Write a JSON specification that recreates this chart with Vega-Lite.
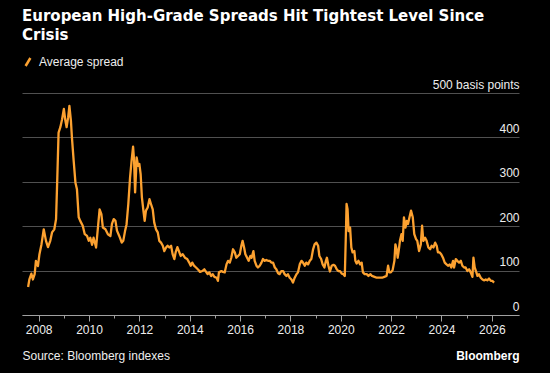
{
  "$schema": "https://vega.github.io/schema/vega-lite/v6.json",
  "width": 497,
  "height": 222,
  "autosize": {"type": "none"},
  "padding": {"left": 22, "top": 93, "right": 31, "bottom": 58},
  "background": "#000000",
  "title": {
    "text": ["European High-Grade Spreads Hit Tightest Level Since", "Crisis"],
    "anchor": "start",
    "frame": "group",
    "font": "DejaVu Sans",
    "fontSize": 15,
    "fontWeight": "bold",
    "color": "#ffffff",
    "lineHeight": 19,
    "offset": 13
  },
  "config": {
    "view": {"stroke": null},
    "font": "Liberation Sans"
  },
  "data": {
    "values": [
      {"year": 2007.58, "spread": 63}, {"year": 2007.63, "spread": 80}, {"year": 2007.71, "spread": 93}, {"year": 2007.77, "spread": 80},
      {"year": 2007.84, "spread": 92}, {"year": 2007.89, "spread": 122}, {"year": 2007.97, "spread": 110}, {"year": 2008.03, "spread": 137},
      {"year": 2008.11, "spread": 159}, {"year": 2008.20, "spread": 193}, {"year": 2008.29, "spread": 167}, {"year": 2008.37, "spread": 153},
      {"year": 2008.46, "spread": 167}, {"year": 2008.53, "spread": 186}, {"year": 2008.62, "spread": 193}, {"year": 2008.69, "spread": 216},
      {"year": 2008.74, "spread": 310}, {"year": 2008.79, "spread": 411}, {"year": 2008.86, "spread": 423}, {"year": 2008.93, "spread": 441},
      {"year": 2009.00, "spread": 464}, {"year": 2009.06, "spread": 438}, {"year": 2009.11, "spread": 423}, {"year": 2009.17, "spread": 445},
      {"year": 2009.22, "spread": 471}, {"year": 2009.28, "spread": 438}, {"year": 2009.32, "spread": 400}, {"year": 2009.39, "spread": 347},
      {"year": 2009.46, "spread": 298}, {"year": 2009.52, "spread": 283}, {"year": 2009.59, "spread": 220}, {"year": 2009.65, "spread": 212},
      {"year": 2009.75, "spread": 201}, {"year": 2009.83, "spread": 182}, {"year": 2009.92, "spread": 178}, {"year": 2009.99, "spread": 167},
      {"year": 2010.05, "spread": 174}, {"year": 2010.12, "spread": 158}, {"year": 2010.18, "spread": 174}, {"year": 2010.28, "spread": 152},
      {"year": 2010.36, "spread": 201}, {"year": 2010.42, "spread": 238}, {"year": 2010.49, "spread": 227}, {"year": 2010.55, "spread": 197},
      {"year": 2010.65, "spread": 193}, {"year": 2010.75, "spread": 182}, {"year": 2010.85, "spread": 178}, {"year": 2010.91, "spread": 205},
      {"year": 2010.98, "spread": 216}, {"year": 2011.05, "spread": 212}, {"year": 2011.11, "spread": 190}, {"year": 2011.20, "spread": 178},
      {"year": 2011.30, "spread": 163}, {"year": 2011.36, "spread": 167}, {"year": 2011.43, "spread": 189}, {"year": 2011.49, "spread": 204},
      {"year": 2011.56, "spread": 250}, {"year": 2011.63, "spread": 310}, {"year": 2011.69, "spread": 347}, {"year": 2011.75, "spread": 379},
      {"year": 2011.79, "spread": 347}, {"year": 2011.83, "spread": 276}, {"year": 2011.87, "spread": 325}, {"year": 2011.89, "spread": 355},
      {"year": 2011.95, "spread": 336}, {"year": 2012.00, "spread": 340}, {"year": 2012.05, "spread": 317}, {"year": 2012.10, "spread": 265},
      {"year": 2012.16, "spread": 235}, {"year": 2012.21, "spread": 212}, {"year": 2012.26, "spread": 235}, {"year": 2012.33, "spread": 242},
      {"year": 2012.40, "spread": 261}, {"year": 2012.46, "spread": 250}, {"year": 2012.53, "spread": 238}, {"year": 2012.59, "spread": 208},
      {"year": 2012.66, "spread": 193}, {"year": 2012.73, "spread": 186}, {"year": 2012.79, "spread": 167}, {"year": 2012.86, "spread": 163},
      {"year": 2012.93, "spread": 156}, {"year": 2012.99, "spread": 144}, {"year": 2013.06, "spread": 152}, {"year": 2013.12, "spread": 156},
      {"year": 2013.19, "spread": 152}, {"year": 2013.26, "spread": 156}, {"year": 2013.32, "spread": 137}, {"year": 2013.39, "spread": 126},
      {"year": 2013.44, "spread": 141}, {"year": 2013.51, "spread": 153}, {"year": 2013.57, "spread": 144}, {"year": 2013.64, "spread": 133},
      {"year": 2013.72, "spread": 137}, {"year": 2013.81, "spread": 129}, {"year": 2013.90, "spread": 126}, {"year": 2013.98, "spread": 118},
      {"year": 2014.04, "spread": 111}, {"year": 2014.10, "spread": 118}, {"year": 2014.17, "spread": 111}, {"year": 2014.25, "spread": 107},
      {"year": 2014.34, "spread": 102}, {"year": 2014.41, "spread": 97}, {"year": 2014.50, "spread": 99}, {"year": 2014.58, "spread": 103},
      {"year": 2014.65, "spread": 97}, {"year": 2014.71, "spread": 92}, {"year": 2014.78, "spread": 96}, {"year": 2014.85, "spread": 88},
      {"year": 2014.91, "spread": 92}, {"year": 2014.98, "spread": 86}, {"year": 2015.07, "spread": 84}, {"year": 2015.12, "spread": 77},
      {"year": 2015.16, "spread": 96}, {"year": 2015.26, "spread": 99}, {"year": 2015.32, "spread": 97}, {"year": 2015.39, "spread": 96},
      {"year": 2015.46, "spread": 114}, {"year": 2015.52, "spread": 122}, {"year": 2015.59, "spread": 118}, {"year": 2015.65, "spread": 129},
      {"year": 2015.72, "spread": 148}, {"year": 2015.79, "spread": 141}, {"year": 2015.85, "spread": 129}, {"year": 2015.92, "spread": 133},
      {"year": 2015.99, "spread": 137}, {"year": 2016.05, "spread": 156}, {"year": 2016.10, "spread": 167}, {"year": 2016.16, "spread": 152},
      {"year": 2016.21, "spread": 137}, {"year": 2016.28, "spread": 129}, {"year": 2016.34, "spread": 122}, {"year": 2016.41, "spread": 133},
      {"year": 2016.46, "spread": 129}, {"year": 2016.53, "spread": 144}, {"year": 2016.58, "spread": 122}, {"year": 2016.65, "spread": 111},
      {"year": 2016.71, "spread": 107}, {"year": 2016.78, "spread": 111}, {"year": 2016.85, "spread": 118}, {"year": 2016.91, "spread": 126},
      {"year": 2016.98, "spread": 122}, {"year": 2017.04, "spread": 124}, {"year": 2017.11, "spread": 122}, {"year": 2017.18, "spread": 122},
      {"year": 2017.24, "spread": 118}, {"year": 2017.31, "spread": 118}, {"year": 2017.38, "spread": 107}, {"year": 2017.44, "spread": 103},
      {"year": 2017.51, "spread": 94}, {"year": 2017.57, "spread": 92}, {"year": 2017.64, "spread": 99}, {"year": 2017.71, "spread": 99},
      {"year": 2017.77, "spread": 92}, {"year": 2017.84, "spread": 88}, {"year": 2017.90, "spread": 92}, {"year": 2017.97, "spread": 84},
      {"year": 2018.04, "spread": 80}, {"year": 2018.10, "spread": 73}, {"year": 2018.17, "spread": 84}, {"year": 2018.24, "spread": 92},
      {"year": 2018.30, "spread": 96}, {"year": 2018.37, "spread": 114}, {"year": 2018.44, "spread": 122}, {"year": 2018.50, "spread": 118},
      {"year": 2018.57, "spread": 111}, {"year": 2018.63, "spread": 118}, {"year": 2018.70, "spread": 114}, {"year": 2018.77, "spread": 122},
      {"year": 2018.83, "spread": 126}, {"year": 2018.90, "spread": 148}, {"year": 2018.96, "spread": 159}, {"year": 2019.03, "spread": 163},
      {"year": 2019.10, "spread": 156}, {"year": 2019.15, "spread": 133}, {"year": 2019.22, "spread": 126}, {"year": 2019.28, "spread": 114},
      {"year": 2019.35, "spread": 107}, {"year": 2019.41, "spread": 122}, {"year": 2019.45, "spread": 129}, {"year": 2019.51, "spread": 111},
      {"year": 2019.57, "spread": 98}, {"year": 2019.64, "spread": 111}, {"year": 2019.71, "spread": 113}, {"year": 2019.77, "spread": 111},
      {"year": 2019.84, "spread": 103}, {"year": 2019.90, "spread": 99}, {"year": 2019.97, "spread": 99}, {"year": 2020.04, "spread": 93},
      {"year": 2020.10, "spread": 92}, {"year": 2020.16, "spread": 88}, {"year": 2020.21, "spread": 197}, {"year": 2020.23, "spread": 250},
      {"year": 2020.27, "spread": 238}, {"year": 2020.31, "spread": 189}, {"year": 2020.37, "spread": 197}, {"year": 2020.42, "spread": 152},
      {"year": 2020.47, "spread": 141}, {"year": 2020.54, "spread": 144}, {"year": 2020.58, "spread": 122}, {"year": 2020.63, "spread": 116},
      {"year": 2020.70, "spread": 122}, {"year": 2020.77, "spread": 114}, {"year": 2020.83, "spread": 118}, {"year": 2020.88, "spread": 96},
      {"year": 2020.95, "spread": 92}, {"year": 2021.03, "spread": 92}, {"year": 2021.10, "spread": 88}, {"year": 2021.18, "spread": 92},
      {"year": 2021.24, "spread": 88}, {"year": 2021.34, "spread": 86}, {"year": 2021.43, "spread": 84}, {"year": 2021.53, "spread": 84},
      {"year": 2021.64, "spread": 84}, {"year": 2021.73, "spread": 86}, {"year": 2021.82, "spread": 88}, {"year": 2021.88, "spread": 111},
      {"year": 2021.93, "spread": 96}, {"year": 2021.99, "spread": 96}, {"year": 2022.06, "spread": 101}, {"year": 2022.13, "spread": 122},
      {"year": 2022.17, "spread": 159}, {"year": 2022.22, "spread": 148}, {"year": 2022.26, "spread": 129}, {"year": 2022.30, "spread": 144},
      {"year": 2022.35, "spread": 167}, {"year": 2022.41, "spread": 182}, {"year": 2022.46, "spread": 167}, {"year": 2022.51, "spread": 220},
      {"year": 2022.57, "spread": 197}, {"year": 2022.62, "spread": 212}, {"year": 2022.67, "spread": 205}, {"year": 2022.73, "spread": 220},
      {"year": 2022.79, "spread": 235}, {"year": 2022.86, "spread": 220}, {"year": 2022.92, "spread": 182}, {"year": 2022.99, "spread": 171},
      {"year": 2023.04, "spread": 167}, {"year": 2023.11, "spread": 144}, {"year": 2023.18, "spread": 159}, {"year": 2023.23, "spread": 201},
      {"year": 2023.28, "spread": 167}, {"year": 2023.35, "spread": 174}, {"year": 2023.41, "spread": 167}, {"year": 2023.48, "spread": 152},
      {"year": 2023.55, "spread": 148}, {"year": 2023.61, "spread": 156}, {"year": 2023.68, "spread": 152}, {"year": 2023.75, "spread": 163},
      {"year": 2023.81, "spread": 156}, {"year": 2023.86, "spread": 141}, {"year": 2023.93, "spread": 141}, {"year": 2023.99, "spread": 137},
      {"year": 2024.06, "spread": 129}, {"year": 2024.13, "spread": 118}, {"year": 2024.20, "spread": 114}, {"year": 2024.26, "spread": 111},
      {"year": 2024.33, "spread": 114}, {"year": 2024.39, "spread": 107}, {"year": 2024.46, "spread": 122}, {"year": 2024.50, "spread": 107},
      {"year": 2024.57, "spread": 126}, {"year": 2024.63, "spread": 122}, {"year": 2024.70, "spread": 118}, {"year": 2024.77, "spread": 122},
      {"year": 2024.83, "spread": 111}, {"year": 2024.90, "spread": 107}, {"year": 2024.96, "spread": 107}, {"year": 2025.03, "spread": 99},
      {"year": 2025.10, "spread": 103}, {"year": 2025.16, "spread": 96}, {"year": 2025.23, "spread": 86}, {"year": 2025.27, "spread": 129},
      {"year": 2025.32, "spread": 107}, {"year": 2025.37, "spread": 99}, {"year": 2025.43, "spread": 88}, {"year": 2025.49, "spread": 92},
      {"year": 2025.56, "spread": 84}, {"year": 2025.63, "spread": 80}, {"year": 2025.69, "spread": 78}, {"year": 2025.76, "spread": 80},
      {"year": 2025.82, "spread": 78}, {"year": 2025.89, "spread": 82}, {"year": 2025.96, "spread": 77}, {"year": 2026.02, "spread": 77},
      {"year": 2026.09, "spread": 73}
    ]
  },
  "mark": {"type": "line", "strokeWidth": 2.3, "strokeJoin": "round"},
  "encoding": {
    "x": {
      "field": "year",
      "type": "quantitative",
      "scale": {"domain": [2007.337, 2027.08], "nice": false, "zero": false},
      "axis": {
        "values": [2008, 2009, 2010, 2011, 2012, 2013, 2014, 2015, 2016, 2017, 2018, 2019, 2020, 2021, 2022, 2023, 2024, 2025, 2026],
        "labelExpr": "datum.value % 2 === 0 ? format(datum.value, 'd') : ''",
        "labelOverlap": false,
        "labelFont": "Liberation Sans",
        "labelFontSize": 12,
        "labelColor": "#eeeeee",
        "labelPadding": 3,
        "domain": true,
        "domainColor": "#a0a0a0",
        "domainWidth": 1,
        "ticks": true,
        "tickColor": "#a0a0a0",
        "tickSize": {"condition": {"test": "datum.value % 2 === 0", "value": 6}, "value": 3},
        "grid": false,
        "title": "Source: Bloomberg indexes",
        "titleFont": "Liberation Sans",
        "titleFontSize": 12,
        "titleFontWeight": "normal",
        "titleColor": "#eeeeee",
        "titleAnchor": "start",
        "titleAlign": "left",
        "titleBaseline": "alphabetic",
        "titleX": 0,
        "titleY": 44
      }
    },
    "y": {
      "field": "spread",
      "type": "quantitative",
      "scale": {"domain": [0, 500], "nice": false},
      "axis": {
        "orient": "right",
        "values": [0, 100, 200, 300, 400, 500],
        "labelExpr": "datum.value == 500 ? '500 basis points' : datum.label",
        "labelFont": "Liberation Sans",
        "labelFontSize": 12,
        "labelColor": "#eeeeee",
        "labelAlign": "right",
        "labelBaseline": "alphabetic",
        "labelPadding": 0,
        "labelOffset": -5,
        "domain": false,
        "ticks": false,
        "grid": true,
        "gridColor": "#505050",
        "gridWidth": 1,
        "title": "Bloomberg",
        "titleFont": "Liberation Sans",
        "titleFontSize": 12,
        "titleFontWeight": "bold",
        "titleColor": "#ffffff",
        "titleAngle": 0,
        "titleAlign": "right",
        "titleBaseline": "alphabetic",
        "titleX": 0,
        "titleY": 266
      }
    },
    "color": {
      "datum": "Average spread",
      "scale": {"range": ["#fca130"]},
      "legend": {
        "title": null,
        "orient": "none",
        "legendX": 0,
        "legendY": -37,
        "padding": 0,
        "symbolType": "M-0.6,1L0.6,-1",
        "symbolSize": 64,
        "symbolStrokeWidth": 2.5,
        "labelOffset": 5,
        "labelFont": "Liberation Sans",
        "labelFontSize": 12,
        "labelColor": "#eeeeee"
      }
    }
  }
}
